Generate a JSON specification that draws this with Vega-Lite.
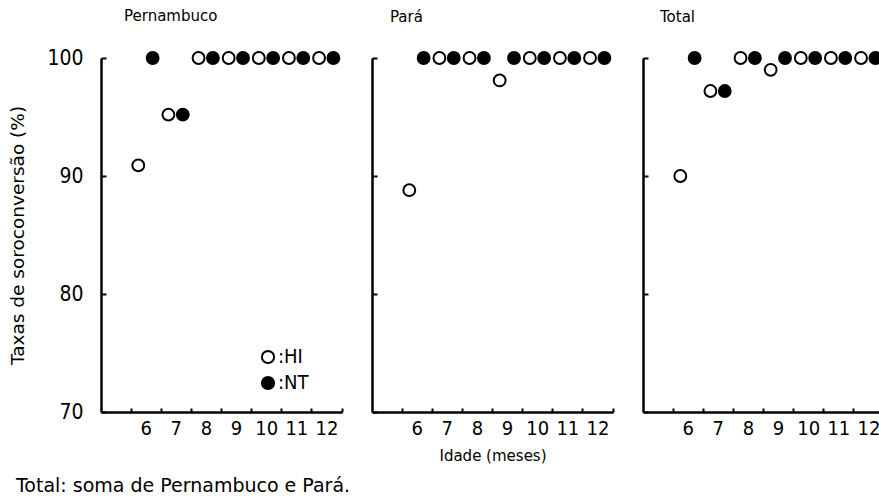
{
  "$schema": "https://vega.github.io/schema/vega-lite/v6.json",
  "background": "white",
  "padding": {"left": 8, "top": 9, "right": 0, "bottom": 5},
  "data": {"values": [
    {"region": "Pernambuco", "age": 6, "group": "HI", "value": 90.9},
    {"region": "Pernambuco", "age": 6, "group": "NT", "value": 100},
    {"region": "Pernambuco", "age": 7, "group": "HI", "value": 95.2},
    {"region": "Pernambuco", "age": 7, "group": "NT", "value": 95.2},
    {"region": "Pernambuco", "age": 8, "group": "HI", "value": 100},
    {"region": "Pernambuco", "age": 8, "group": "NT", "value": 100},
    {"region": "Pernambuco", "age": 9, "group": "HI", "value": 100},
    {"region": "Pernambuco", "age": 9, "group": "NT", "value": 100},
    {"region": "Pernambuco", "age": 10, "group": "HI", "value": 100},
    {"region": "Pernambuco", "age": 10, "group": "NT", "value": 100},
    {"region": "Pernambuco", "age": 11, "group": "HI", "value": 100},
    {"region": "Pernambuco", "age": 11, "group": "NT", "value": 100},
    {"region": "Pernambuco", "age": 12, "group": "HI", "value": 100},
    {"region": "Pernambuco", "age": 12, "group": "NT", "value": 100},
    {"region": "Pará", "age": 6, "group": "HI", "value": 88.8},
    {"region": "Pará", "age": 6, "group": "NT", "value": 100},
    {"region": "Pará", "age": 7, "group": "HI", "value": 100},
    {"region": "Pará", "age": 7, "group": "NT", "value": 100},
    {"region": "Pará", "age": 8, "group": "HI", "value": 100},
    {"region": "Pará", "age": 8, "group": "NT", "value": 100},
    {"region": "Pará", "age": 9, "group": "HI", "value": 98.1},
    {"region": "Pará", "age": 9, "group": "NT", "value": 100},
    {"region": "Pará", "age": 10, "group": "HI", "value": 100},
    {"region": "Pará", "age": 10, "group": "NT", "value": 100},
    {"region": "Pará", "age": 11, "group": "HI", "value": 100},
    {"region": "Pará", "age": 11, "group": "NT", "value": 100},
    {"region": "Pará", "age": 12, "group": "HI", "value": 100},
    {"region": "Pará", "age": 12, "group": "NT", "value": 100},
    {"region": "Total", "age": 6, "group": "HI", "value": 90.0},
    {"region": "Total", "age": 6, "group": "NT", "value": 100},
    {"region": "Total", "age": 7, "group": "HI", "value": 97.2},
    {"region": "Total", "age": 7, "group": "NT", "value": 97.2},
    {"region": "Total", "age": 8, "group": "HI", "value": 100},
    {"region": "Total", "age": 8, "group": "NT", "value": 100},
    {"region": "Total", "age": 9, "group": "HI", "value": 99.0},
    {"region": "Total", "age": 9, "group": "NT", "value": 100},
    {"region": "Total", "age": 10, "group": "HI", "value": 100},
    {"region": "Total", "age": 10, "group": "NT", "value": 100},
    {"region": "Total", "age": 11, "group": "HI", "value": 100},
    {"region": "Total", "age": 11, "group": "NT", "value": 100},
    {"region": "Total", "age": 12, "group": "HI", "value": 100},
    {"region": "Total", "age": 12, "group": "NT", "value": 100}
  ]},
  "title": {
    "text": "Total: soma de Pernambuco e Pará.",
    "orient": "bottom",
    "anchor": "start",
    "frame": "bounds",
    "font": "DejaVu Sans",
    "fontSize": 19,
    "fontWeight": "normal",
    "color": "black",
    "dx": 7,
    "offset": 14
  },
  "config": {
    "view": {"stroke": null},
    "font": "DejaVu Sans",
    "axis": {
      "domainColor": "black",
      "domainWidth": 2.5,
      "tickColor": "black",
      "tickWidth": 2,
      "labelColor": "black",
      "titleColor": "black",
      "titleFontWeight": "normal",
      "grid": false
    },
    "title": {"fontWeight": "normal", "color": "black", "fontSize": 15, "font": "DejaVu Sans", "anchor": "start", "frame": "group", "dx": 20, "offset": 23}
  },
  "spacing": 27,
  "resolve": {"scale": {"fill": "independent"}, "legend": {"fill": "independent"}},
  "hconcat": [
    {
      "title": {"text": "Pernambuco", "dx": 23},
      "width": 241,
      "height": 354,
      "transform": [{"filter": "datum.region === 'Pernambuco'"}],
      "mark": {"type": "point", "shape": "circle", "filled": true, "stroke": "black", "strokeWidth": 2, "size": 140, "opacity": 1},
      "encoding": {
        "x": {"field": "age", "type": "ordinal", "scale": {"type": "band", "domain": [5, 6, 7, 8, 9, 10, 11, 12], "paddingInner": 0, "paddingOuter": 0},
              "axis": {"title": null, "bandPosition": 1, "labelExpr": "datum.value == 5 ? '' : datum.label", "labelAngle": 0, "tickSize": -4, "labelPadding": 10, "labelFontSize": 20, "labelFont": "DejaVu Sans Condensed, Liberation Sans"}},
        "xOffset": {"field": "group", "type": "nominal", "scale": {"type": "band", "domain": ["HI", "NT"], "paddingInner": 0, "paddingOuter": 0.05, "align": 0}},
        "y": {"field": "value", "type": "quantitative", "scale": {"domain": [70, 100], "nice": false, "zero": false},
              "axis": {"title": "Taxas de soroconversão (%)", "titleFont": "DejaVu Sans", "titleFontSize": 18.5, "titlePadding": 19, "values": [70, 80, 90, 100], "tickSize": -5, "labelPadding": 23, "labelFontSize": 21, "labelFont": "DejaVu Sans Condensed, Liberation Sans"}},
        "fill": {"field": "group", "type": "nominal", "scale": {"domain": ["HI", "NT"], "range": ["white", "black"]},
                 "legend": {"title": null, "orient": "none", "legendX": 157, "legendY": 289, "symbolType": "circle", "symbolSize": 150, "symbolStrokeColor": "black", "symbolStrokeWidth": 2, "labelExpr": "':' + datum.label", "labelFontSize": 20, "labelFont": "DejaVu Sans Condensed, Liberation Sans", "labelColor": "black", "labelOffset": 0, "rowPadding": 4}}
      }
    },
    {
      "title": {"text": "Pará", "dx": 18},
      "width": 241,
      "height": 354,
      "transform": [{"filter": "datum.region === 'Pará'"}],
      "mark": {"type": "point", "shape": "circle", "filled": true, "stroke": "black", "strokeWidth": 2, "size": 140, "opacity": 1},
      "encoding": {
        "x": {"field": "age", "type": "ordinal", "scale": {"type": "band", "domain": [5, 6, 7, 8, 9, 10, 11, 12], "paddingInner": 0, "paddingOuter": 0},
              "axis": {"title": "Idade (meses)", "titleFont": "DejaVu Sans", "titleFontSize": 15, "titlePadding": 10, "bandPosition": 1, "labelExpr": "datum.value == 5 ? '' : datum.label", "labelAngle": 0, "tickSize": -4, "labelPadding": 10, "labelFontSize": 20, "labelFont": "DejaVu Sans Condensed, Liberation Sans"}},
        "xOffset": {"field": "group", "type": "nominal", "scale": {"type": "band", "domain": ["HI", "NT"], "paddingInner": 0, "paddingOuter": 0.05, "align": 0}},
        "y": {"field": "value", "type": "quantitative", "scale": {"domain": [70, 100], "nice": false, "zero": false},
              "axis": {"title": null, "values": [70, 80, 90, 100], "tickSize": -5, "labels": false}},
        "fill": {"field": "group", "type": "nominal", "scale": {"domain": ["HI", "NT"], "range": ["white", "black"]}, "legend": null}
      }
    },
    {
      "title": {"text": "Total", "dx": 17},
      "width": 241,
      "height": 354,
      "transform": [{"filter": "datum.region === 'Total'"}],
      "mark": {"type": "point", "shape": "circle", "filled": true, "stroke": "black", "strokeWidth": 2, "size": 140, "opacity": 1},
      "encoding": {
        "x": {"field": "age", "type": "ordinal", "scale": {"type": "band", "domain": [5, 6, 7, 8, 9, 10, 11, 12], "paddingInner": 0, "paddingOuter": 0},
              "axis": {"title": null, "bandPosition": 1, "labelExpr": "datum.value == 5 ? '' : datum.label", "labelAngle": 0, "tickSize": -4, "labelPadding": 10, "labelFontSize": 20, "labelFont": "DejaVu Sans Condensed, Liberation Sans"}},
        "xOffset": {"field": "group", "type": "nominal", "scale": {"type": "band", "domain": ["HI", "NT"], "paddingInner": 0, "paddingOuter": 0.05, "align": 0}},
        "y": {"field": "value", "type": "quantitative", "scale": {"domain": [70, 100], "nice": false, "zero": false},
              "axis": {"title": null, "values": [70, 80, 90, 100], "tickSize": -5, "labels": false}},
        "fill": {"field": "group", "type": "nominal", "scale": {"domain": ["HI", "NT"], "range": ["white", "black"]}, "legend": null}
      }
    }
  ]
}
